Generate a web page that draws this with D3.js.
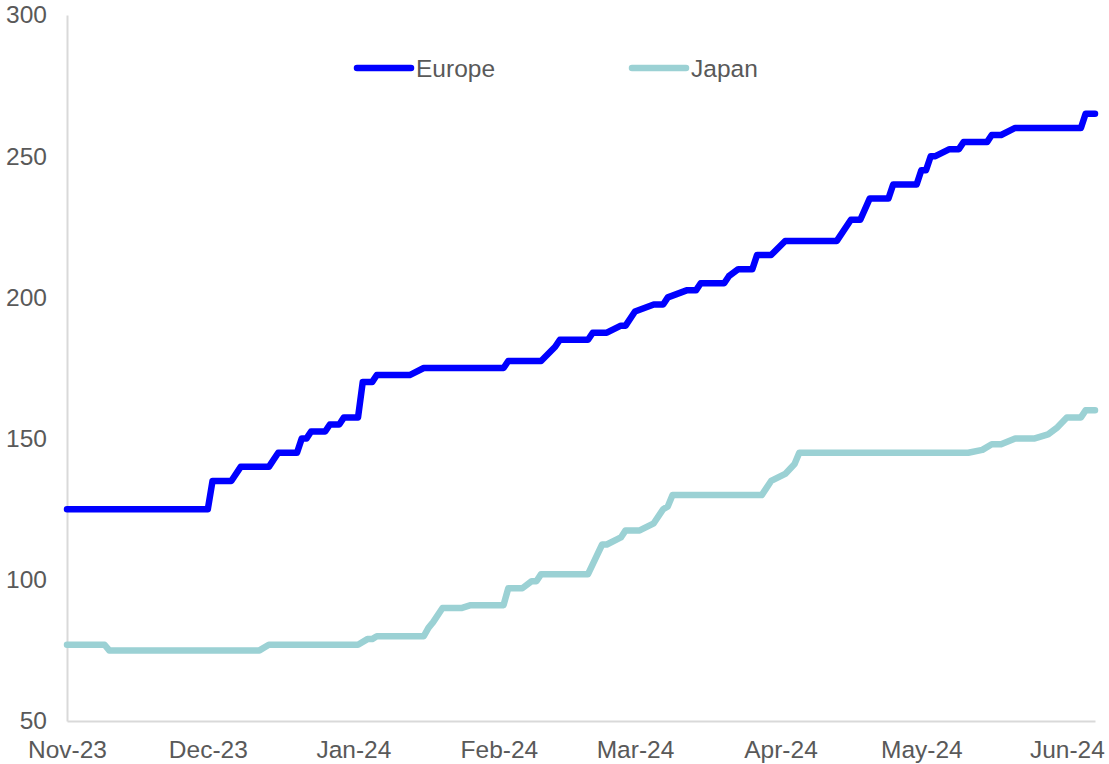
<!DOCTYPE html>
<html>
<head>
<meta charset="utf-8">
<script src="https://cdn.jsdelivr.net/npm/d3@7"></script>
<style>
  html, body { margin: 0; padding: 0; background: #fff; }
  svg text { font-family: "Liberation Sans", Arial, sans-serif; fill: #595959; }
</style>
</head>
<body>
<svg id="chart" width="1109" height="764"></svg>
<script>
// Step points of each series (date, level)
const europeDates = ["2023-11-01","2023-12-01","2023-12-02","2023-12-06","2023-12-08","2023-12-14","2023-12-16","2023-12-20","2023-12-21","2023-12-22","2023-12-23","2023-12-26","2023-12-27","2023-12-29","2023-12-30","2024-01-02","2024-01-03","2024-01-05","2024-01-06","2024-01-13","2024-01-16","2024-02-02","2024-02-03","2024-02-10","2024-02-13","2024-02-14","2024-02-20","2024-02-21","2024-02-24","2024-02-27","2024-02-28","2024-03-01","2024-03-05","2024-03-07","2024-03-08","2024-03-12","2024-03-14","2024-03-15","2024-03-20","2024-03-21","2024-03-23","2024-03-26","2024-03-27","2024-03-30","2024-04-02","2024-04-13","2024-04-16","2024-04-18","2024-04-20","2024-04-24","2024-04-25","2024-04-30","2024-05-01","2024-05-02","2024-05-03","2024-05-04","2024-05-07","2024-05-09","2024-05-10","2024-05-15","2024-05-16","2024-05-18","2024-05-21","2024-06-04","2024-06-05","2024-06-07"];
const europeValues = [125,125,135,135,140,140,145,145,150,150,152.5,152.5,155,155,157.5,157.5,170,170,172.5,172.5,175,175,177.5,177.5,182.5,185,185,187.5,187.5,190,190,195,197.5,197.5,200,202.5,202.5,205,205,207.5,210,210,215,215,220,220,227.5,227.5,235,235,240,240,245,245,250,250,252.5,252.5,255,255,257.5,257.5,260,260,265,265];

const japanDates = ["2023-11-01","2023-11-09","2023-11-10","2023-12-12","2023-12-14","2024-01-02","2024-01-04","2024-01-05","2024-01-06","2024-01-16","2024-01-17","2024-01-18","2024-01-20","2024-01-24","2024-01-26","2024-02-02","2024-02-03","2024-02-06","2024-02-08","2024-02-09","2024-02-10","2024-02-20","2024-02-23","2024-02-24","2024-02-27","2024-02-28","2024-03-02","2024-03-05","2024-03-07","2024-03-08","2024-03-09","2024-03-28","2024-03-30","2024-04-02","2024-04-04","2024-04-05","2024-05-11","2024-05-14","2024-05-16","2024-05-18","2024-05-21","2024-05-25","2024-05-28","2024-05-30","2024-06-01","2024-06-04","2024-06-05","2024-06-07"];
const japanValues = [77,77,75,75,77,77,79,79,80,80,83,85,90,90,91,91,97,97,99.5,99.5,102,102,112.5,112.5,115,117.5,117.5,120,125,126,130,130,135,137.5,141,145,145,146,148,148,150,150,151.5,154,157.5,157.5,160,160];

const seriesNames = ["Europe", "Japan"];
const seriesColors = ["#0000ff", "#9bd1d4"];
const monthTicks = ["2023-11-01","2023-12-01","2024-01-01","2024-02-01","2024-03-01","2024-04-01","2024-05-01","2024-06-01"];
const yTicks = [50, 100, 150, 200, 250, 300];

const parse = d3.utcParse("%Y-%m-%d");
const svg = d3.select("#chart");

const x = d3.scaleUtc()
  .domain([parse("2023-11-01"), parse("2024-06-07")])
  .range([67, 1095]);
const y = d3.scaleLinear().domain([50, 300]).range([721, 15]);

// axes
const xAxis = d3.axisBottom(x)
  .tickValues(monthTicks.map(parse))
  .tickFormat(d3.utcFormat("%b-%y"))
  .tickSize(0)
  .tickPadding(20);
const gx = svg.append("g").attr("transform", "translate(0,721)").call(xAxis);
gx.select(".domain").attr("stroke", "#d9d9d9").attr("stroke-width", 2);
gx.selectAll("text").attr("font-size", 24.5).style("fill", "#595959");

const yAxis = d3.axisLeft(y).tickValues(yTicks).tickSize(0).tickPadding(20);
const gy = svg.append("g").attr("transform", "translate(67,0)").call(yAxis);
gy.select(".domain").attr("stroke", "#d9d9d9").attr("stroke-width", 2);
gy.selectAll("text").attr("font-size", 24.5).style("fill", "#595959");

// lines
const line = d3.line().x(d => x(d.date)).y(d => y(d.value));
const data = [
  europeDates.map((d, i) => ({ date: parse(d), value: europeValues[i] })),
  japanDates.map((d, i) => ({ date: parse(d), value: japanValues[i] }))
];
// Japan underneath, Europe on top
[1, 0].forEach(i => {
  svg.append("path")
    .datum(data[i])
    .attr("fill", "none")
    .attr("stroke", seriesColors[i])
    .attr("stroke-width", 6.5)
    .attr("stroke-linejoin", "round")
    .attr("stroke-linecap", "round")
    .attr("d", line);
});

// legend
const legendX = [357, 632];
seriesNames.forEach((name, i) => {
  const g = svg.append("g").attr("transform", `translate(${legendX[i]},68)`);
  g.append("line")
    .attr("x1", 0).attr("x2", 54)
    .attr("stroke", seriesColors[i])
    .attr("stroke-width", 6.5)
    .attr("stroke-linecap", "round");
  g.append("text")
    .attr("x", 59).attr("y", 0)
    .attr("dy", "0.35em")
    .attr("font-size", 24.5)
    .text(name);
});
</script>
</body>
</html>
